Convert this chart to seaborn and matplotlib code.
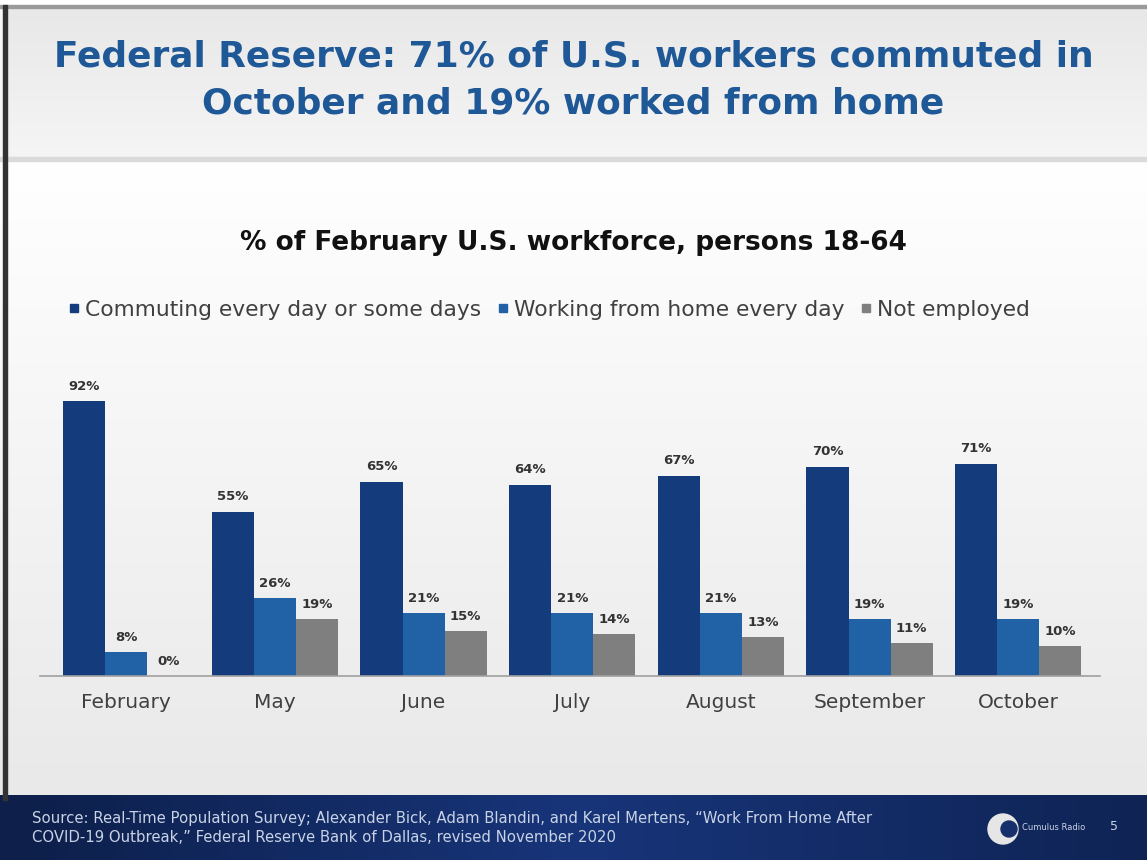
import matplotlib
matplotlib.use("Agg")
import matplotlib.pyplot as plt
import matplotlib.patches as mpatches
from matplotlib.lines import Line2D
import seaborn as sns
import pandas as pd
import numpy as np

months = ["February", "May", "June", "July", "August", "September", "October"]
series_names = ["Commuting every day or some days", "Working from home every day", "Not employed"]
commuting = [92, 55, 65, 64, 67, 70, 71]
wfh = [8, 26, 21, 21, 21, 19, 19]
not_employed = [0, 19, 15, 14, 13, 11, 10]
colors = ["#143b7c", "#2161a6", "#7f7f7f"]

title = "Federal Reserve: 71% of U.S. workers commuted in\nOctober and 19% worked from home"
subtitle = "% of February U.S. workforce, persons 18-64"
source = ("Source: Real-Time Population Survey; Alexander Bick, Adam Blandin, and Karel Mertens, \u201cWork From Home After\n"
          "COVID-19 Outbreak,\u201d Federal Reserve Bank of Dallas, revised November 2020")

df = pd.DataFrame({
    "month": months * 3,
    "series": [series_names[0]] * 7 + [series_names[1]] * 7 + [series_names[2]] * 7,
    "value": commuting + wfh + not_employed,
})

sns.set_theme(style="white")
plt.rcParams["font.family"] = ["DejaVu Sans"]

W, H = 1147, 860
fig = plt.figure(figsize=(W / 100, H / 100), dpi=100)
fig.patch.set_facecolor("#f7f7f7")

# background: slide body gradient
bg = fig.add_axes([0, 0, 1, 1], zorder=-10)
bg.set_xlim(0, W); bg.set_ylim(H, 0); bg.axis("off")
grad = np.linspace(0, 1, 200).reshape(-1, 1)
bg.imshow(grad, extent=[0, W, 795, 160], cmap=matplotlib.colors.LinearSegmentedColormap.from_list("g", ["#ffffff", "#e9e9e9"]), aspect="auto")
# title band
bg.imshow(np.linspace(0, 1, 100).reshape(-1, 1), extent=[8, W, 160, 8],
          cmap=matplotlib.colors.LinearSegmentedColormap.from_list("t", ["#e8e8e8", "#f5f5f5"]), aspect="auto")
bg.add_patch(mpatches.Rectangle((0, 0), W, 8, color="#ffffff"))
bg.add_patch(mpatches.Rectangle((0, 5), W, 3, color="#9a9a9a"))
bg.add_patch(mpatches.Rectangle((0, 157), W, 4, color="#dadada"))
bg.add_patch(mpatches.Rectangle((3, 5), 4, 795, color="#333333"))
# footer
bg.imshow(np.linspace(0, 1, 100).reshape(1, -1), extent=[0, W, H, 795],
          cmap=matplotlib.colors.LinearSegmentedColormap.from_list("f", ["#0d1f4a", "#18357a", "#0f2455"]), aspect="auto")
bg.add_patch(mpatches.Circle((1003, 829), 15, color="#e6e6e6"))
bg.add_patch(mpatches.Circle((1009, 829), 8, color="#17306b"))
bg.set_xlim(0, W); bg.set_ylim(H, 0)

fig.text(0.5, 1 - 80 / H, title, ha="center", va="center", fontsize=25.9, fontweight="bold",
         color="#1f5896", linespacing=1.5)
fig.text(0.5, 1 - 243 / H, subtitle, ha="center", va="center", fontsize=19, fontweight="bold", color="#111111")
fig.text(32 / W, 1 - 828 / H, source, ha="left", va="center", fontsize=10.7, color="#c9d3e6", linespacing=1.3)
fig.text(1022 / W, 1 - 828 / H, "Cumulus Radio", ha="left", va="center", fontsize=6, color="#c9d3e6")
fig.text(1110 / W, 1 - 827 / H, "5", ha="left", va="center", fontsize=9, color="#c9d3e6")

ax = fig.add_axes([40 / W, 1 - 676 / H, (1100 - 40) / W, (676 - 377) / H])
ax.patch.set_alpha(0)
sns.barplot(data=df, x="month", y="value", hue="series", order=months, hue_order=series_names,
            palette=colors, width=0.85, saturation=1, ax=ax, legend=False, linewidth=0)
ax.set_ylim(0, 100)
ax.set_xlim(-0.58, 6.55)
for cont in ax.containers:
    labels = [f"{v:.0f}%" for v in cont.datavalues]
    ax.bar_label(cont, labels=labels, padding=6, fontsize=9.5, fontweight="bold", color="#333333")
for s in ["top", "right", "left"]:
    ax.spines[s].set_visible(False)
ax.spines["bottom"].set_color("#a0a0a0")
ax.spines["bottom"].set_linewidth(1.2)
ax.set_yticks([])
ax.set_xlabel(""); ax.set_ylabel("")
ax.tick_params(axis="x", length=0, pad=12, labelsize=14.5, labelcolor="#404040")

handles = [Line2D([0], [0], marker="s", linestyle="", markersize=6, color=c) for c in colors]
fig.legend(handles, series_names, loc="center left", bbox_to_anchor=(46 / W, 1 - 310 / H), ncol=3,
           frameon=False, fontsize=15.7, handletextpad=0.1, columnspacing=0.6, labelcolor="#404040",
           handlelength=0.8)

fig.savefig("out.png", dpi=100, facecolor=fig.get_facecolor())
